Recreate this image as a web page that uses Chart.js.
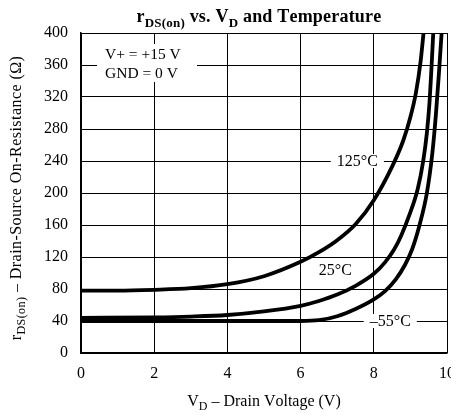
<!DOCTYPE html>
<html>
<head>
<meta charset="utf-8">
<script src="https://cdn.jsdelivr.net/npm/chart.js@4/dist/chart.umd.min.js"></script>
<style>
html,body{margin:0;padding:0;background:#fff;}
#wrap{width:451px;height:415px;position:relative;}
</style>
</head>
<body>
<div id="wrap"><canvas id="c" width="451" height="415"></canvas></div>
<script>
// ---- data ----
const vd125 = [0, 1, 2, 3, 4, 5, 6, 6.5, 7, 7.5, 8, 8.5, 8.8, 9.0, 9.15, 9.28, 9.37];
const r125  = [78, 78, 79, 81, 86, 96, 114, 126, 141, 161, 191, 233, 265, 295, 325, 365, 405];

const vd25 = [0, 2, 3, 4, 5, 6, 6.5, 7, 7.5, 8, 8.3, 8.55, 8.75, 9.0, 9.2, 9.35, 9.45, 9.52, 9.58, 9.63];
const r25  = [44, 44.5, 45.5, 47.5, 52, 59, 65, 73, 84, 99, 113, 129, 147, 176, 205, 240, 275, 312, 360, 405];

const vdm55 = [0, 2, 4, 6, 6.5, 7, 7.5, 8, 8.3, 8.6, 8.85, 9.05, 9.25, 9.45, 9.6, 9.7, 9.78, 9.86];
const rm55  = [40, 40, 40, 40, 41, 46, 55, 67, 77, 92, 110, 130, 160, 200, 250, 300, 350, 405];

const xTicks = [0, 2, 4, 6, 8, 10];
const yTicks = [0, 40, 80, 120, 160, 200, 240, 280, 320, 360, 400];

const titleParts = [["r", false], ["DS(on)", true], [" vs. V", false], ["D", true], [" and Temperature", false]];
const yTitleParts = [["r", false], ["DS(on)", true], [" \u2013 Drain-Source On-Resistance (\u03A9)", false]];
const xTitleParts = [["V", false], ["D", true], [" \u2013 Drain Voltage (V)", false]];
const condLines = ["V+ = +15 V", "GND = 0 V"];
const curveLabels = [
  {text: "125\u00B0C", x: 7.55, y: 240},
  {text: "25\u00B0C",  x: 6.95, y: 104},
  {text: "\u201355\u00B0C", x: 8.45, y: 40}
];

const SERIF = '"Liberation Serif", "DejaVu Serif", serif';

function pts(xs, ys){ return xs.map((x, i) => ({x: x, y: ys[i]})); }

function ds(label, xs, ys){
  return {
    label: label, data: pts(xs, ys),
    borderColor: '#000', borderWidth: 3.8, pointRadius: 0,
    cubicInterpolationMode: 'monotone', fill: false, clip: 0
  };
}

function setFont(ctx, size, sub, bold){
  ctx.font = (bold ? 'bold ' : '') + (sub ? Math.round(size*0.72) : size) + 'px ' + SERIF;
}
function richWidth(ctx, parts, size, bold, ls){
  let w = 0;
  for (const [t, sub] of parts){
    setFont(ctx, size, sub, bold);
    for (const ch of t) w += ctx.measureText(ch).width + ls;
  }
  return w;
}
function drawRich(ctx, parts, cx, baseY, size, bold, ls){
  ls = ls || 0;
  const w = richWidth(ctx, parts, size, bold, ls);
  let x = cx - w/2;
  ctx.textAlign = 'left';
  ctx.textBaseline = 'alphabetic';
  for (const [t, sub] of parts){
    setFont(ctx, size, sub, bold);
    for (const ch of t){
      ctx.fillText(ch, x, baseY + (sub ? size*0.25 : 0));
      x += ctx.measureText(ch).width + ls;
    }
  }
}

const textPlugin = {
  id: 'texts',
  afterDatasetsDraw(chart){
    const ctx = chart.ctx;
    const xs = chart.scales.x, ys = chart.scales.y;
    ctx.save();
    ctx.fillStyle = '#000';
    // title
    drawRich(ctx, titleParts, 259, 22, 18, true, 0.2);
    // x title
    drawRich(ctx, xTitleParts, 264, 406, 16, false, 0);
    // y title
    ctx.save();
    ctx.translate(21, 198);
    ctx.rotate(-Math.PI/2);
    drawRich(ctx, yTitleParts, 0, 0, 16, false, 0.45);
    ctx.restore();
    // conditions box
    ctx.fillStyle = '#fff';
    ctx.fillRect(97, 44, 100, 38);
    ctx.fillStyle = '#000';
    ctx.font = '15.5px ' + SERIF;
    ctx.textAlign = 'left';
    ctx.textBaseline = 'alphabetic';
    ctx.fillText(condLines[0], 105, 59);
    ctx.fillText(condLines[1], 105, 78);
    // curve labels
    ctx.font = '16px ' + SERIF;
    for (const l of curveLabels){
      const px = xs.getPixelForValue(l.x), py = ys.getPixelForValue(l.y);
      const w = ctx.measureText(l.text).width;
      ctx.fillStyle = '#fff';
      ctx.fillRect(px - w/2 - 6, py - 7, w + 12, 14);
      ctx.fillStyle = '#000';
      ctx.textAlign = 'center';
      ctx.textBaseline = 'middle';
      ctx.fillText(l.text, px, py + 1);
    }
    ctx.restore();
  }
};

new Chart(document.getElementById('c'), {
  type: 'line',
  data: { datasets: [ds('125\u00B0C', vd125, r125), ds('25\u00B0C', vd25, r25), ds('\u201355\u00B0C', vdm55, rm55)] },
  options: {
    responsive: false, animation: false, devicePixelRatio: 1,
    layout: { padding: { top: 33, right: 4, left: 0, bottom: 0 } },
    plugins: { legend: { display: false }, title: { display: false }, tooltip: { enabled: false } },
    scales: {
      x: {
        type: 'linear', min: 0, max: 10,
        afterBuildTicks(s){ s.ticks = xTicks.map(v => ({value: v})); },
        afterFit(s){ s.height = 62; s.paddingLeft = 0; s.paddingRight = 0; },
        ticks: { color: '#000', font: { family: SERIF, size: 16 }, padding: 11, maxRotation: 0 },
        grid: { color: '#000', lineWidth: 1, drawTicks: false },
        border: { color: '#000', width: 1.5 }
      },
      y: {
        type: 'linear', min: 0, max: 400,
        afterBuildTicks(s){ s.ticks = yTicks.map(v => ({value: v})); },
        afterFit(s){ s.width = 81; s.paddingTop = 0; s.paddingBottom = 0; },
        ticks: { color: '#000', font: { family: SERIF, size: 16 }, padding: 13 },
        grid: { color: '#000', lineWidth: 1, drawTicks: false },
        border: { color: '#000', width: 1.5 }
      }
    }
  },
  plugins: [textPlugin]
});
</script>
</body>
</html>
